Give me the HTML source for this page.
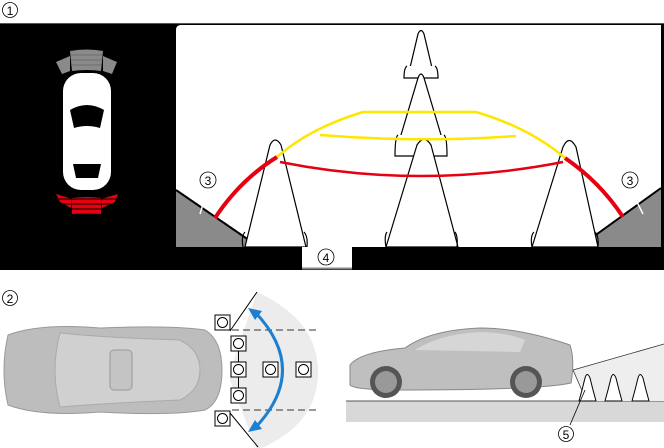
<!DOCTYPE html>
<html><head><style>html,body{margin:0;padding:0;background:#fff;}svg{display:block;}text{font-family:"Liberation Sans",sans-serif;}</style></head><body>
<svg width="664" height="448" viewBox="0 0 664 448" xmlns="http://www.w3.org/2000/svg">
<!-- circled 1 -->
<circle cx="10" cy="10" r="7.5" fill="none" stroke="#000" stroke-width="0.8"/><text x="10" y="15" font-size="12" text-anchor="middle">1</text>
<rect x="0" y="23" width="664" height="247" fill="#000"/>
<line x1="0" y1="23.5" x2="664" y2="23.5" stroke="#555" stroke-width="1"/>
<!-- screen -->
<path d="M176,30 Q176,25 181,25 L661,25 L661,247 L176,247 Z" fill="#fff"/>
<polygon points="176,190 176,247 258,247" fill="#8a8a8a"/>
<line x1="176" y1="190" x2="259" y2="247" stroke="#000" stroke-width="2"/>
<polygon points="661,188 661,247 580,247" fill="#8a8a8a"/>
<line x1="661" y1="188" x2="579" y2="247" stroke="#000" stroke-width="2"/>
<!-- cones -->
<g fill="#fff" stroke="#000" stroke-width="1.2">
<path d="M409,72 L418,34 Q421,27 424,34 L433,72 Z"/>
<path d="M407,66 Q404,68 404,78 L438,78 Q438,68 435,66"/>
<path d="M398,145 L418,78 Q421,70 424,78 L444,145 Z"/>
<path d="M398,135 Q395,137 395,156 L447,156 Q447,137 444,135"/>
<path d="M386,247 L417,145 Q424,134 431,145 L458,247 Z"/>
<path d="M387,232 Q384,236 386,247 M455,232 Q458,236 457,247" fill="none"/>
<path d="M245,247 L270,145 Q275,135 281,145 L306,247 Z"/>
<path d="M245,232 Q241,236 243,247 M304,232 Q308,236 307,247" fill="none"/>
<path d="M532,247 L563,147 Q569,134 576,147 L598,247 Z"/>
<path d="M534,232 Q530,236 532,247 M595,232 Q599,236 598,247" fill="none"/>
</g>
<!-- guide lines -->
<path d="M215,218 Q240,180 277,157" fill="none" stroke="#e60012" stroke-width="4"/>
<path d="M565,158 Q600,182 623,217" fill="none" stroke="#e60012" stroke-width="4"/>
<path d="M280,162 Q420,190 563,162" fill="none" stroke="#e60012" stroke-width="2.5"/>
<path d="M277,157 Q310,128 363,112 L476,112 Q530,128 565,158" fill="none" stroke="#ffe600" stroke-width="2.5"/>
<path d="M320,135 Q420,143 516,136" fill="none" stroke="#ffe600" stroke-width="2.5"/>
<!-- labels 3 -->
<line x1="208" y1="188" x2="200" y2="214" stroke="#fff" stroke-width="1.5"/>
<circle cx="208" cy="180" r="8" fill="#fff" stroke="#000" stroke-width="0.8"/><text x="208" y="185" font-size="12" text-anchor="middle">3</text>
<line x1="630" y1="188" x2="643" y2="214" stroke="#fff" stroke-width="1.5"/>
<circle cx="630" cy="180" r="8" fill="#fff" stroke="#000" stroke-width="0.8"/><text x="630" y="185" font-size="12" text-anchor="middle">3</text>
<!-- label 4 box -->
<rect x="302" y="247" width="50" height="22" fill="#fff"/>
<line x1="302" y1="268.5" x2="352" y2="268.5" stroke="#888" stroke-width="2"/>
<circle cx="326" cy="257" r="8" fill="none" stroke="#000" stroke-width="0.8"/><text x="326" y="262" font-size="12" text-anchor="middle">4</text>
<!-- left car icon -->
<g>
<path d="M56,62 L70,56 L70,71 L62,74 Z" fill="#8a8a8a"/>
<path d="M70,51 Q87,48 103,51 L101,71 Q87,69 72,71 Z" fill="#8a8a8a"/>
<path d="M103,56 L117,62 L112,74 L103,71 Z" fill="#8a8a8a"/>
<path d="M70,55 L102,55 M71,60 L102,60 M71,65 L101,65" stroke="#666" stroke-width="0.8"/>
<rect x="63" y="73" width="48" height="117" rx="18" fill="#fff"/>
<path d="M70,110 Q87,100 104,110 L100,128 Q87,124 74,128 Z" fill="#000"/>
<path d="M73,164 L101,164 L98,178 L76,178 Z" fill="#000"/>
<path d="M56,194 L72,199 L71,208 L60,202 Z" fill="#e60012"/>
<path d="M72,198 Q87,196 101,198 L101,214 Q87,213 72,214 Z" fill="#e60012"/>
<path d="M101,199 L118,194 L115,202 L102,208 Z" fill="#e60012"/>
<path d="M58,199 L117,199 M60,204 L115,204 M70,209 L104,209" stroke="#000" stroke-width="1"/>
</g>
<!-- section 2 -->
<circle cx="10" cy="298" r="7.5" fill="none" stroke="#000" stroke-width="0.8"/><text x="10" y="303" font-size="12" text-anchor="middle">2</text>
<path d="M257,292 Q318,320 318,372 Q318,425 257,450 L230,380 L230,372 Z" fill="#ececec"/>
<line x1="257" y1="292" x2="230" y2="331" stroke="#000" stroke-width="1"/>
<line x1="230" y1="413" x2="258" y2="447" stroke="#000" stroke-width="1"/>
<line x1="232" y1="330" x2="316" y2="330" stroke="#333" stroke-dasharray="7,4"/>
<line x1="232" y1="410" x2="316" y2="410" stroke="#333" stroke-dasharray="7,4"/>
<path d="M255,312 Q310,370 255,428" fill="none" stroke="#1e7fd0" stroke-width="3"/>
<polygon points="248,308 262,311 255,320" fill="#1e7fd0"/>
<polygon points="248,432 262,429 255,420" fill="#1e7fd0"/>
<!-- top-view car -->
<path d="M8,335 Q40,323 100,328 Q170,325 205,330 Q222,340 222,370 Q222,402 205,410 Q170,416 100,412 Q40,417 8,405 Q0,370 8,335 Z" fill="#bdbdbd" stroke="#999"/>
<path d="M60,333 Q110,338 180,340 Q200,350 200,370 Q200,390 180,400 Q110,403 60,407 Q50,370 60,333 Z" fill="#d0d0d0" stroke="#aaa"/>
<rect x="110" y="350" width="22" height="40" rx="4" fill="#c4c4c4" stroke="#999"/>
<g fill="#fff" stroke="#000" stroke-width="1">
<rect x="215" y="315" width="15" height="15"/><rect x="231" y="336" width="15" height="15"/><rect x="231" y="362" width="15" height="15"/><rect x="231" y="388" width="15" height="15"/><rect x="215" y="411" width="15" height="15"/>
<rect x="263" y="362" width="15" height="15"/><rect x="296" y="362" width="15" height="15"/>
<circle cx="222.5" cy="322.5" r="5"/><circle cx="238.5" cy="343.5" r="5"/><circle cx="238.5" cy="369.5" r="5"/><circle cx="238.5" cy="395.5" r="5"/><circle cx="222.5" cy="418.5" r="5"/><circle cx="270.5" cy="369.5" r="5"/><circle cx="303.5" cy="369.5" r="5"/>
</g>
<line x1="238.5" y1="351" x2="238.5" y2="362" stroke="#000"/><line x1="238.5" y1="377" x2="238.5" y2="388" stroke="#000"/>
<!-- side scene -->
<rect x="346" y="401" width="318" height="21" fill="#d8d8d8"/>
<line x1="346" y1="401" x2="664" y2="401" stroke="#555"/>
<polygon points="573,370 664,344 664,401 590,401" fill="#eeeeee"/>
<line x1="573" y1="370" x2="664" y2="344" stroke="#333" stroke-width="0.8"/>
<line x1="573" y1="370" x2="584" y2="395" stroke="#333" stroke-width="0.8"/>
<g fill="#fff" stroke="#000" stroke-width="1">
<path d="M579,401 L582,390 L585,378 Q587,371 590,378 L593,390 L596,401 Z"/>
<path d="M605,401 L608,390 L611,378 Q613,371 616,378 L619,390 L622,401 Z"/>
<path d="M632,401 L635,390 L638,378 Q640,371 643,378 L646,390 L649,401 Z"/>
</g>
<path d="M350,365 Q360,352 405,348 Q430,330 480,328 Q520,328 570,345 Q575,360 571,383 Q540,390 400,390 Q355,390 350,385 Z" fill="#bfbfbf" stroke="#888"/>
<path d="M415,350 Q440,334 480,332 Q510,333 525,340 L520,352 Z" fill="#d6d6d6"/>
<circle cx="386" cy="382" r="16" fill="#555"/><circle cx="386" cy="382" r="11" fill="#999"/>
<circle cx="526" cy="382" r="16" fill="#555"/><circle cx="526" cy="382" r="11" fill="#999"/>
<line x1="585" y1="390" x2="570" y2="425" stroke="#000" stroke-width="0.8"/>
<circle cx="566" cy="434" r="7.5" fill="#fff" stroke="#000" stroke-width="0.8"/><text x="566" y="439" font-size="12" text-anchor="middle">5</text>
</svg>
</body></html>
